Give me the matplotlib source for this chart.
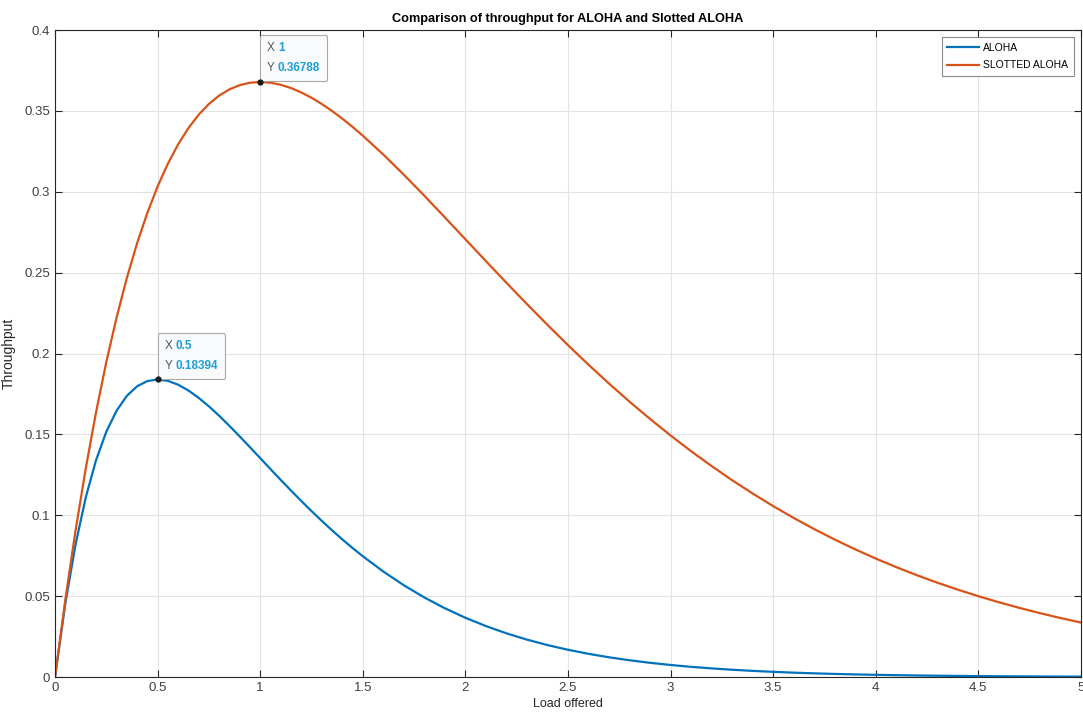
#!/usr/bin/env python3
"""Throughput of pure ALOHA vs slotted ALOHA against offered load."""
import matplotlib
matplotlib.use("Agg")
import matplotlib.pyplot as plt
from matplotlib.offsetbox import AnnotationBbox, HPacker, TextArea, VPacker
from matplotlib.ticker import FormatStrFormatter, MultipleLocator

# Offered load G: step 0.05 up to 1.5, then step 0.1 up to 5
load = [
    0.0, 0.05, 0.1, 0.15, 0.2, 0.25, 0.3, 0.35, 0.4, 0.45,
    0.5, 0.55, 0.6, 0.65, 0.7, 0.75, 0.8, 0.85, 0.9, 0.95,
    1.0, 1.05, 1.1, 1.15, 1.2, 1.25, 1.3, 1.35, 1.4, 1.45,
    1.5, 1.6, 1.7, 1.8, 1.9, 2.0, 2.1, 2.2, 2.3, 2.4,
    2.5, 2.6, 2.7, 2.8, 2.9, 3.0, 3.1, 3.2, 3.3, 3.4,
    3.5, 3.6, 3.7, 3.8, 3.9, 4.0, 4.1, 4.2, 4.3, 4.4,
    4.5, 4.6, 4.7, 4.8, 4.9, 5.0,
]

aloha = [
    0.0, 0.04524, 0.08187, 0.11112, 0.13406, 0.15163, 0.16464, 0.17380, 0.17973, 0.18296,
    0.18394, 0.18308, 0.18072, 0.17715, 0.17262, 0.16735, 0.16152, 0.15528, 0.14877, 0.14209,
    0.13534, 0.12858, 0.12188, 0.11530, 0.10886, 0.10261, 0.09656, 0.09073, 0.08513, 0.07978,
    0.07468, 0.06522, 0.05673, 0.04918, 0.04250, 0.03663, 0.03149, 0.02701, 0.02312, 0.01975,
    0.01684, 0.01434, 0.01219, 0.01035, 0.00878, 0.00744, 0.00629, 0.00532, 0.00449, 0.00379,
    0.00319, 0.00269, 0.00226, 0.00190, 0.00160, 0.00134, 0.00113, 0.00094, 0.00079, 0.00066,
    0.00056, 0.00046, 0.00039, 0.00033, 0.00027, 0.00023,
]

slotted = [
    0.0, 0.04756, 0.09048, 0.12911, 0.16375, 0.19470, 0.22225, 0.24664, 0.26813, 0.28693,
    0.30327, 0.31732, 0.32929, 0.33933, 0.34761, 0.35428, 0.35946, 0.36330, 0.36591, 0.36740,
    0.36788, 0.36743, 0.36616, 0.36413, 0.36143, 0.35813, 0.35429, 0.34997, 0.34524, 0.34013,
    0.33470, 0.32303, 0.31056, 0.29754, 0.28418, 0.27067, 0.25716, 0.24377, 0.23060, 0.21772,
    0.20521, 0.19311, 0.18146, 0.17027, 0.15957, 0.14936, 0.13965, 0.13044, 0.12171, 0.11347,
    0.10569, 0.09837, 0.09148, 0.08501, 0.07894, 0.07326, 0.06795, 0.06298, 0.05834, 0.05402,
    0.04999, 0.04624, 0.04275, 0.03950, 0.03649, 0.03369,
]

# Data tips shown on the chart
tips = [(0.5, 0.18394, "0.5", "0.18394"), (1.0, 0.36788, "1", "0.36788")]

BLUE = "#0072BD"
ORANGE = "#D95319"
TIP_BLUE = "#1E9ED6"

plt.rcParams["font.family"] = ["Liberation Sans", "DejaVu Sans"]

fig = plt.figure(figsize=(10.83, 7.18), dpi=100)
ax = fig.add_axes([0.0508, 0.0571, 0.9472, 0.9011])

ax.plot(load, aloha, color=BLUE, lw=1.6, label="ALOHA")
ax.plot(load, slotted, color=ORANGE, lw=1.6, label="SLOTTED ALOHA")

ax.set_xlim(0, 5)
ax.set_ylim(0, 0.4)
ax.xaxis.set_major_locator(MultipleLocator(0.5))
ax.yaxis.set_major_locator(MultipleLocator(0.05))
ax.xaxis.set_major_formatter(FormatStrFormatter("%g"))
ax.yaxis.set_major_formatter(FormatStrFormatter("%g"))
ax.tick_params(direction="in", length=5, width=0.8, top=True, right=True,
               labelsize=9.5, colors="#262626", labelcolor="#404040")
for sp in ax.spines.values():
    sp.set_color("#262626")
    sp.set_linewidth(0.8)
ax.grid(True, color="#e3e3e3", lw=0.8)
ax.set_axisbelow(True)

ax.set_title("Comparison of throughput for ALOHA and Slotted ALOHA",
             fontsize=9.2, fontweight="bold", pad=6)
ax.set_xlabel("Load offered", fontsize=9, color="#262626", labelpad=3)
ax.set_ylabel("Throughput", fontsize=10, color="#262626", labelpad=6)

leg = ax.legend(loc="upper right", fontsize=7.5, handlelength=3.1,
                handletextpad=0.4, fancybox=False, framealpha=1,
                edgecolor="#8a8a8a", borderaxespad=0.7, labelspacing=0.75,
                borderpad=0.5)
leg.get_frame().set_linewidth(0.8)

for x, y, xs, ys in tips:
    ax.plot([x], [y], "o", color="#1a1a1a", ms=3.5, zorder=7)
    rows = []
    for lab, val in (("X", xs), ("Y", ys)):
        rows.append(HPacker(children=[
            TextArea(lab, textprops=dict(color="#555555", fontsize=8.5)),
            TextArea(val, textprops=dict(color=TIP_BLUE, fontsize=8.5,
                                         fontweight="bold")),
        ], pad=0, sep=2))
    box = VPacker(children=rows, pad=0, sep=6)
    ab = AnnotationBbox(box, (x, y), xybox=(5.0, 5.5), boxcoords="offset points",
                        box_alignment=(0, 0), pad=0.5, frameon=True, zorder=6,
                        bboxprops=dict(facecolor="#f8fafc", edgecolor="#a8a8a8",
                                       lw=0.8, boxstyle="round,pad=0.5,rounding_size=0.15"))
    ax.add_artist(ab)

fig.savefig("out.png", dpi=100)
